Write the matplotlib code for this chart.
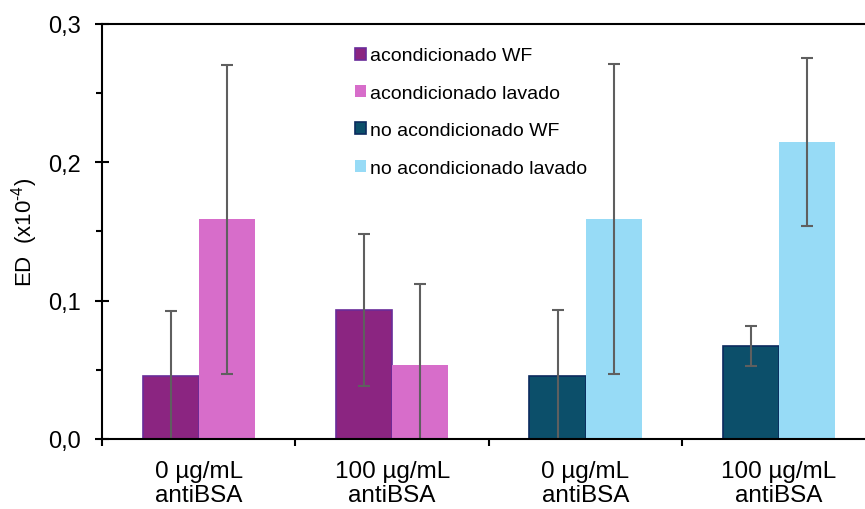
import matplotlib
matplotlib.use("Agg")
import matplotlib.pyplot as plt
from matplotlib.ticker import FixedLocator, FuncFormatter, MultipleLocator
import numpy as np

plt.rcParams['font.family'] = ['Liberation Sans', 'DejaVu Sans']
plt.rcParams['mathtext.fontset'] = 'custom'
plt.rcParams['mathtext.rm'] = 'Liberation Sans'

groups = ["0 µg/mL\nantiBSA", "100 µg/mL\nantiBSA", "0 µg/mL\nantiBSA", "100 µg/mL\nantiBSA"]
series = ["acondicionado WF", "acondicionado lavado", "no acondicionado WF", "no acondicionado lavado"]

# WF bars (left of each pair) and washed bars (right of each pair)
wf_values = [0.0453, 0.0935, 0.0453, 0.0670]
wf_errors = [0.0475, 0.0550, 0.0477, 0.0146]
lav_values = [0.1590, 0.0533, 0.1590, 0.2147]
lav_errors = [0.1117, 0.0588, 0.1120, 0.0610]

wf_colors = ["#8B2581", "#8B2581", "#0C4F6A", "#0C4F6A"]
wf_edges = ["#6A2C9A", "#6A2C9A", "#0B2A5E", "#0B2A5E"]
lav_colors = ["#D76DCA", "#D76DCA", "#97DBF6", "#97DBF6"]

fig = plt.figure(figsize=(8.65, 5.1), dpi=100)
ax = fig.add_axes([0.118, 0.1373, 0.882, 0.8137])

x = np.arange(len(groups))
w = 0.29
err_kw = dict(ecolor="#5F5F5F", elinewidth=1.5, capsize=4.3, capthick=1.5)

bars_wf = ax.bar(x - w / 2, wf_values, w, color=wf_colors, edgecolor=wf_edges,
                 linewidth=1.2, yerr=wf_errors, error_kw=err_kw, zorder=2)
bars_lav = ax.bar(x + w / 2, lav_values, w, color=lav_colors, linewidth=0,
                  yerr=lav_errors, error_kw=err_kw, zorder=2)

ax.set_xlim(-0.5, 3.445)
ax.set_ylim(0, 0.3)

# axes frame: left, bottom and top lines
for side in ["left", "bottom", "top"]:
    ax.spines[side].set_linewidth(1.5)
    ax.spines[side].set_color("black")
ax.spines["right"].set_visible(False)

ax.yaxis.set_major_locator(MultipleLocator(0.1))
ax.yaxis.set_minor_locator(MultipleLocator(0.05))
ax.yaxis.set_major_formatter(FuncFormatter(lambda v, p: f"{v:.1f}".replace(".", ",")))
ax.tick_params(axis="y", which="major", direction="inout", length=10, width=1.5,
               labelsize=17, pad=10)
ax.tick_params(axis="y", which="minor", direction="out", length=4, width=1.5)

ax.set_xticks(x)
ax.set_xticklabels(groups, fontsize=17.5, linespacing=1.1)
ax.tick_params(axis="x", which="major", length=0, pad=15)
ax.xaxis.set_minor_locator(FixedLocator([-0.5, 0.5, 1.5, 2.5]))
ax.tick_params(axis="x", which="minor", direction="out", length=5, width=1.5)

ax.set_ylabel("ED  (x10$^{\u2010\\mathregular{4}}$)", fontsize=16, labelpad=6)

handles = [bars_wf[0], bars_lav[0], bars_wf[2], bars_lav[2]]
ax.legend(handles, series, loc="upper left", bbox_to_anchor=(0.4104, 0.905),
          bbox_transform=fig.transFigure, frameon=False, fontsize=14,
          borderpad=0, borderaxespad=0,
          handlelength=0.57, handleheight=0.57, handletextpad=0.2,
          labelspacing=1.05)

fig.savefig("out.png", dpi=100)
